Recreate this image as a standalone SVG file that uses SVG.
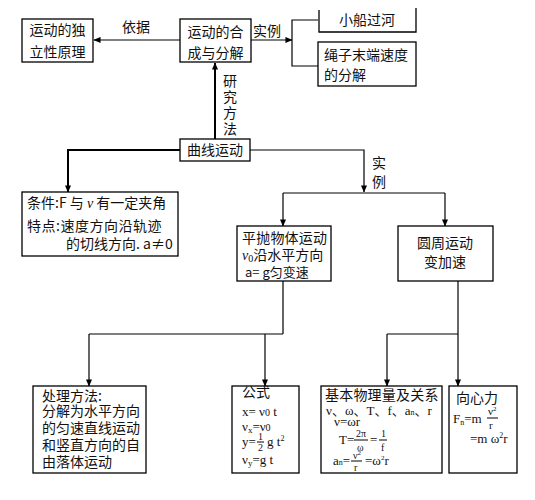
<svg xmlns="http://www.w3.org/2000/svg" width="535" height="500" viewBox="0 0 535 500">
<style>
.box{fill:#fff;stroke:#000;stroke-width:1.3}
.t{font-family:"Noto Sans CJK SC","Liberation Sans",sans-serif;font-size:14px;fill:#111}
.tc{text-anchor:middle}
.m{font-family:"Liberation Serif","Noto Sans CJK SC",serif;font-size:13px;fill:#111}
.mi{font-style:italic}
.c{fill:none;stroke:#000;stroke-width:1.2}
.c2{fill:none;stroke:#000;stroke-width:2}
.fl{stroke:#000;stroke-width:1}
</style>
<defs>
<marker id="ar" viewBox="0 0 8 8" refX="7.5" refY="4" markerWidth="7" markerHeight="7" markerUnits="userSpaceOnUse" orient="auto">
<path d="M0,0.5 L8,4 L0,7.5 z" fill="#000"/>
</marker>
</defs>
<rect width="535" height="500" fill="#fff"/>

<g id="connectors">
<line class="c" x1="180" y1="40" x2="94" y2="40" marker-end="url(#ar)"/>
<line class="c" x1="251" y1="40" x2="292" y2="40" marker-end="url(#ar)"/>
<path class="c" d="M318,20 H292 V66 H318"/>
<line class="c2" x1="215" y1="139" x2="215" y2="63" marker-end="url(#ar)"/>
<path class="c2" d="M180,150 H68 V192" marker-end="url(#ar)"/>
<path class="c" d="M250,150 H364 V192" marker-end="url(#ar)"/>
<path class="c" d="M283,193 H445"/>
<line class="c" x1="283" y1="193" x2="283" y2="226" marker-end="url(#ar)"/>
<line class="c" x1="445" y1="193" x2="445" y2="226" marker-end="url(#ar)"/>
<path class="c" d="M283,281 V334 M89,334 H283"/>
<line class="c" x1="89" y1="334" x2="89" y2="386" marker-end="url(#ar)"/>
<line class="c" x1="265" y1="334" x2="265" y2="386" marker-end="url(#ar)"/>
<line class="c" x1="458" y1="281" x2="458" y2="386" marker-end="url(#ar)"/>
<path class="c" d="M387,334 H458"/>
<line class="c" x1="387" y1="334" x2="387" y2="386" marker-end="url(#ar)"/>
<text class="t tc" x="136" y="32">依据</text>
<text class="t" x="253" y="36">实例</text>
<text class="t tc"><tspan x="230" y="86">研</tspan><tspan x="230" y="102">究</tspan><tspan x="230" y="118">方</tspan><tspan x="230" y="134">法</tspan></text>
<text class="t tc"><tspan x="379" y="168">实</tspan><tspan x="379" y="187">例</tspan></text>
</g>

<g id="n-independence">
<rect class="box" x="22" y="19" width="71" height="43"/>
<text class="t tc"><tspan x="57.5" y="35">运动的独</tspan><tspan x="57.5" y="57">立性原理</tspan></text>
</g>

<g id="n-compose">
<rect class="box" x="180" y="19" width="71" height="43"/>
<text class="t tc"><tspan x="215.5" y="37">运动的合</tspan><tspan x="215.5" y="58">成与分解</tspan></text>
</g>

<g id="n-boat">
<path class="box" d="M319,10 V32 H416 V8"/>
<text class="t tc" x="367" y="25">小船过河</text>
</g>

<g id="n-rope">
<rect class="box" x="318" y="42" width="98" height="44"/>
<text class="t"><tspan x="324" y="60">绳子末端速度</tspan><tspan x="324" y="80">的分解</tspan></text>
</g>

<g id="n-curve">
<rect class="box" x="180" y="139" width="70" height="22"/>
<text class="t tc" x="215" y="155">曲线运动</text>
</g>

<g id="n-condition">
<rect class="box" x="22" y="192" width="156" height="64"/>
<text class="t"><tspan x="27" y="208">条件:F 与 </tspan><tspan font-family="Liberation Serif" font-style="italic">ν</tspan><tspan> 有一定夹角</tspan><tspan x="27" y="231" letter-spacing="0.5">特点:速度方向沿轨迹</tspan><tspan x="66" y="249">的切线方向. a≠0</tspan></text>
</g>

<g id="n-projectile">
<rect class="box" x="237" y="226" width="94" height="55"/>
<text class="t"><tspan x="242" y="243" letter-spacing="0.2">平抛物体运动</tspan><tspan x="242" y="260" font-family="Liberation Serif" font-style="italic">ν</tspan><tspan font-family="Liberation Serif" font-size="10" dy="2">0</tspan><tspan dy="-2">沿水平方向</tspan><tspan x="245" y="277" font-size="13">a= g匀变速</tspan></text>
</g>

<g id="n-circular">
<rect class="box" x="398" y="226" width="95" height="55"/>
<text class="t tc"><tspan x="445" y="248">圆周运动</tspan><tspan x="445" y="267">变加速</tspan></text>
</g>

<g id="n-method">
<rect class="box" x="33" y="386" width="113" height="87"/>
<text class="t"><tspan x="42" y="401">处理方法:</tspan><tspan x="42" y="416">分解为水平方向</tspan><tspan x="42" y="433">的匀速直线运动</tspan><tspan x="42" y="450">和竖直方向的自</tspan><tspan x="42" y="467">由落体运动</tspan></text>
</g>

<g id="n-formula">
<rect class="box" x="232" y="386" width="67" height="87"/>
<text class="t" x="242" y="397" font-size="13">公式</text>
<text class="m"><tspan x="242" y="416">x= ν</tspan><tspan font-size="10">0</tspan><tspan> t</tspan><tspan x="242" y="431">ν</tspan><tspan font-size="9" dy="2">x</tspan><tspan dy="-2">=ν</tspan><tspan font-size="10">0</tspan><tspan x="242" y="446">y=</tspan><tspan x="258" y="440" font-size="10">1</tspan><tspan x="258" y="451" font-size="10">2</tspan><tspan x="267" y="446">g t</tspan><tspan font-size="8" dy="-5">2</tspan><tspan x="242" y="464">ν</tspan><tspan font-size="9" dy="2">y</tspan><tspan dy="-2">=g t</tspan></text>
<line class="fl" x1="257" y1="442" x2="264" y2="442"/>
</g>

<g id="n-quantities">
<rect class="box" x="321" y="386" width="121" height="87"/>
<text class="t" x="325" y="400" letter-spacing="0.2">基本物理量及关系</text>
<text class="m" font-size="11.5"><tspan x="326" y="415">ν、ω、T、f、a</tspan><tspan font-size="8">n</tspan><tspan>、r</tspan><tspan x="334" y="426">ν=ωr</tspan><tspan x="339" y="444" font-size="13">T=</tspan><tspan x="356" y="437" font-size="10">2π</tspan><tspan x="357" y="451" font-size="10">ω</tspan><tspan x="370" y="444" font-size="13">=</tspan><tspan x="381" y="437" font-size="10">1</tspan><tspan x="381" y="451" font-size="10">f</tspan><tspan x="333" y="465">a</tspan><tspan font-size="8">n</tspan><tspan>=</tspan><tspan x="353" y="459" font-size="10">ν</tspan><tspan font-size="7" dy="-4">2</tspan><tspan x="354" y="471" font-size="10">r</tspan><tspan x="365" y="465">=ω</tspan><tspan font-size="7" dy="-5">2</tspan><tspan dy="5">r</tspan></text>
<line class="fl" x1="354" y1="440" x2="368" y2="440"/>
<line class="fl" x1="379" y1="440" x2="387" y2="440"/>
<line class="fl" x1="351" y1="461" x2="362" y2="461"/>
</g>

<g id="n-centripetal">
<rect class="box" x="449" y="386" width="68" height="87"/>
<text class="t" x="456" y="403">向心力</text>
<text class="m"><tspan x="453" y="423">F</tspan><tspan font-size="8" dy="2">n</tspan><tspan dy="-2">=m</tspan><tspan x="488" y="415" font-size="11">ν</tspan><tspan font-size="7" dy="-4">2</tspan><tspan x="489" y="429" font-size="11">r</tspan><tspan x="470" y="443">=m ω</tspan><tspan font-size="8" dy="-5">2</tspan><tspan dy="5">r</tspan></text>
<line class="fl" x1="487" y1="418" x2="498" y2="418"/>
</g>
</svg>
